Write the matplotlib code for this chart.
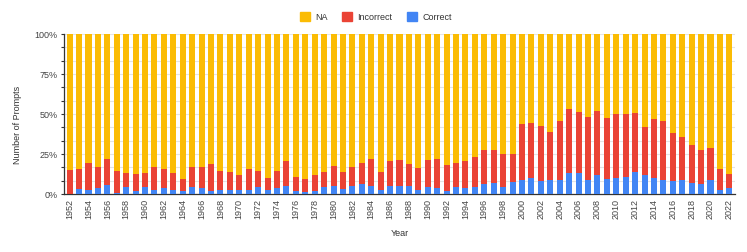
import numpy as np
import matplotlib
matplotlib.use("Agg")
import matplotlib.pyplot as plt
from matplotlib.patches import Patch

plt.rcParams['font.family'] = ['Liberation Sans', 'DejaVu Sans']

years = list(range(1952, 2023))

# share of prompts per year, in percent
correct = [0.0, 3.1, 2.5, 3.7, 5.6, 0.6, 4.4, 1.9, 4.4, 2.3,
           3.5, 2.5, 1.7, 4.4, 4.0, 1.7, 2.5, 2.3, 2.3, 2.3,
           4.4, 2.3, 3.5, 5.0, 1.9, 1.2, 1.9, 4.4, 4.8, 3.3,
           5.0, 6.0, 4.8, 2.3, 5.0, 5.0, 4.8, 2.5, 4.4, 3.5,
           1.7, 4.4, 3.7, 4.4, 6.0, 7.1, 4.4, 7.3, 8.5, 10.2,
           8.3, 8.5, 8.9, 13.1, 13.1, 8.5, 11.6, 9.6, 9.8, 10.4,
           13.5, 12.1, 9.8, 8.5, 8.1, 8.5, 7.1, 6.0, 8.9, 2.3,
           3.7]
answered = [14.8, 15.8, 19.3, 16.6, 21.8, 14.1, 13.3, 12.5, 12.9, 16.8,
            15.6, 13.1, 9.6, 17.0, 17.0, 18.9, 14.6, 13.5, 11.6, 15.8,
            14.6, 10.2, 14.1, 20.6, 10.8, 9.6, 11.6, 13.7, 17.7, 13.7,
            16.6, 19.3, 22.1, 13.7, 20.8, 21.2, 18.7, 16.2, 21.2, 22.0,
            18.3, 19.3, 20.4, 22.9, 27.4, 27.7, 25.2, 24.7, 43.9, 44.3,
            42.6, 38.5, 45.5, 53.2, 51.4, 48.4, 52.0, 47.8, 49.7, 50.3,
            50.7, 41.8, 46.8, 45.9, 38.3, 35.8, 30.4, 27.2, 28.7, 15.6,
            12.5]

correct = np.array(correct)
incorrect = np.array(answered) - correct
na = 100 - np.array(answered)

c_correct = '#4285F4'
c_incorrect = '#EA4335'
c_na = '#FBBC04'

fig = plt.figure(figsize=(7.47, 2.53), dpi=100)
ax = fig.add_axes([64 / 747, 58 / 253, 671 / 747, 160 / 253])

x = np.arange(len(years))
w = 0.64
ax.bar(x, correct, w, color=c_correct, zorder=3)
ax.bar(x, incorrect, w, bottom=correct, color=c_incorrect, zorder=3)
ax.bar(x, na, w, bottom=correct + incorrect, color=c_na, zorder=3)

ax.set_xlim(-0.6, len(years) - 0.4)
ax.set_ylim(0, 100)

ax.set_yticks([0, 25, 50, 75, 100])
ax.set_yticklabels(['0%', '25%', '50%', '75%', '100%'])
ax.set_yticks(np.linspace(0, 100, 13), minor=True)
ax.grid(axis='y', which='both', color='#e4e4e4', linewidth=0.8, zorder=0)
ax.tick_params(axis='y', which='both', length=2.5, width=0.8, colors='#333333',
               labelsize=6.5, pad=2)
ax.tick_params(axis='y', which='major', labelcolor='#444444')

ax.set_xticks(x[::2])
ax.set_xticklabels([str(y) for y in years[::2]], rotation=90)
ax.tick_params(axis='x', length=0, labelsize=6.5, labelcolor='#444444', pad=3)

for s in ['top', 'right']:
    ax.spines[s].set_visible(False)
ax.spines['left'].set_color('#333333')
ax.spines['bottom'].set_color('#333333')
ax.spines['left'].set_linewidth(0.9)
ax.spines['bottom'].set_linewidth(0.9)

ax.set_xlabel('Year', fontsize=6.5, color='#333333')
ax.xaxis.set_label_coords(0.5, -0.21)
ax.set_ylabel('Number of Prompts', fontsize=6.5, color='#333333')
ax.yaxis.set_label_coords(-0.062, 0.44)

handles = [Patch(color=c_na, label='NA'),
           Patch(color=c_incorrect, label='Incorrect'),
           Patch(color=c_correct, label='Correct')]
fig.legend(handles=handles, loc='center', bbox_to_anchor=(0.503, 0.93), ncol=3,
           frameon=False, fontsize=6.5, handlelength=1.1, handleheight=1.1,
           handletextpad=0.6, columnspacing=1.6, labelcolor='#333333')

fig.savefig('out.png', dpi=100, facecolor='white')
